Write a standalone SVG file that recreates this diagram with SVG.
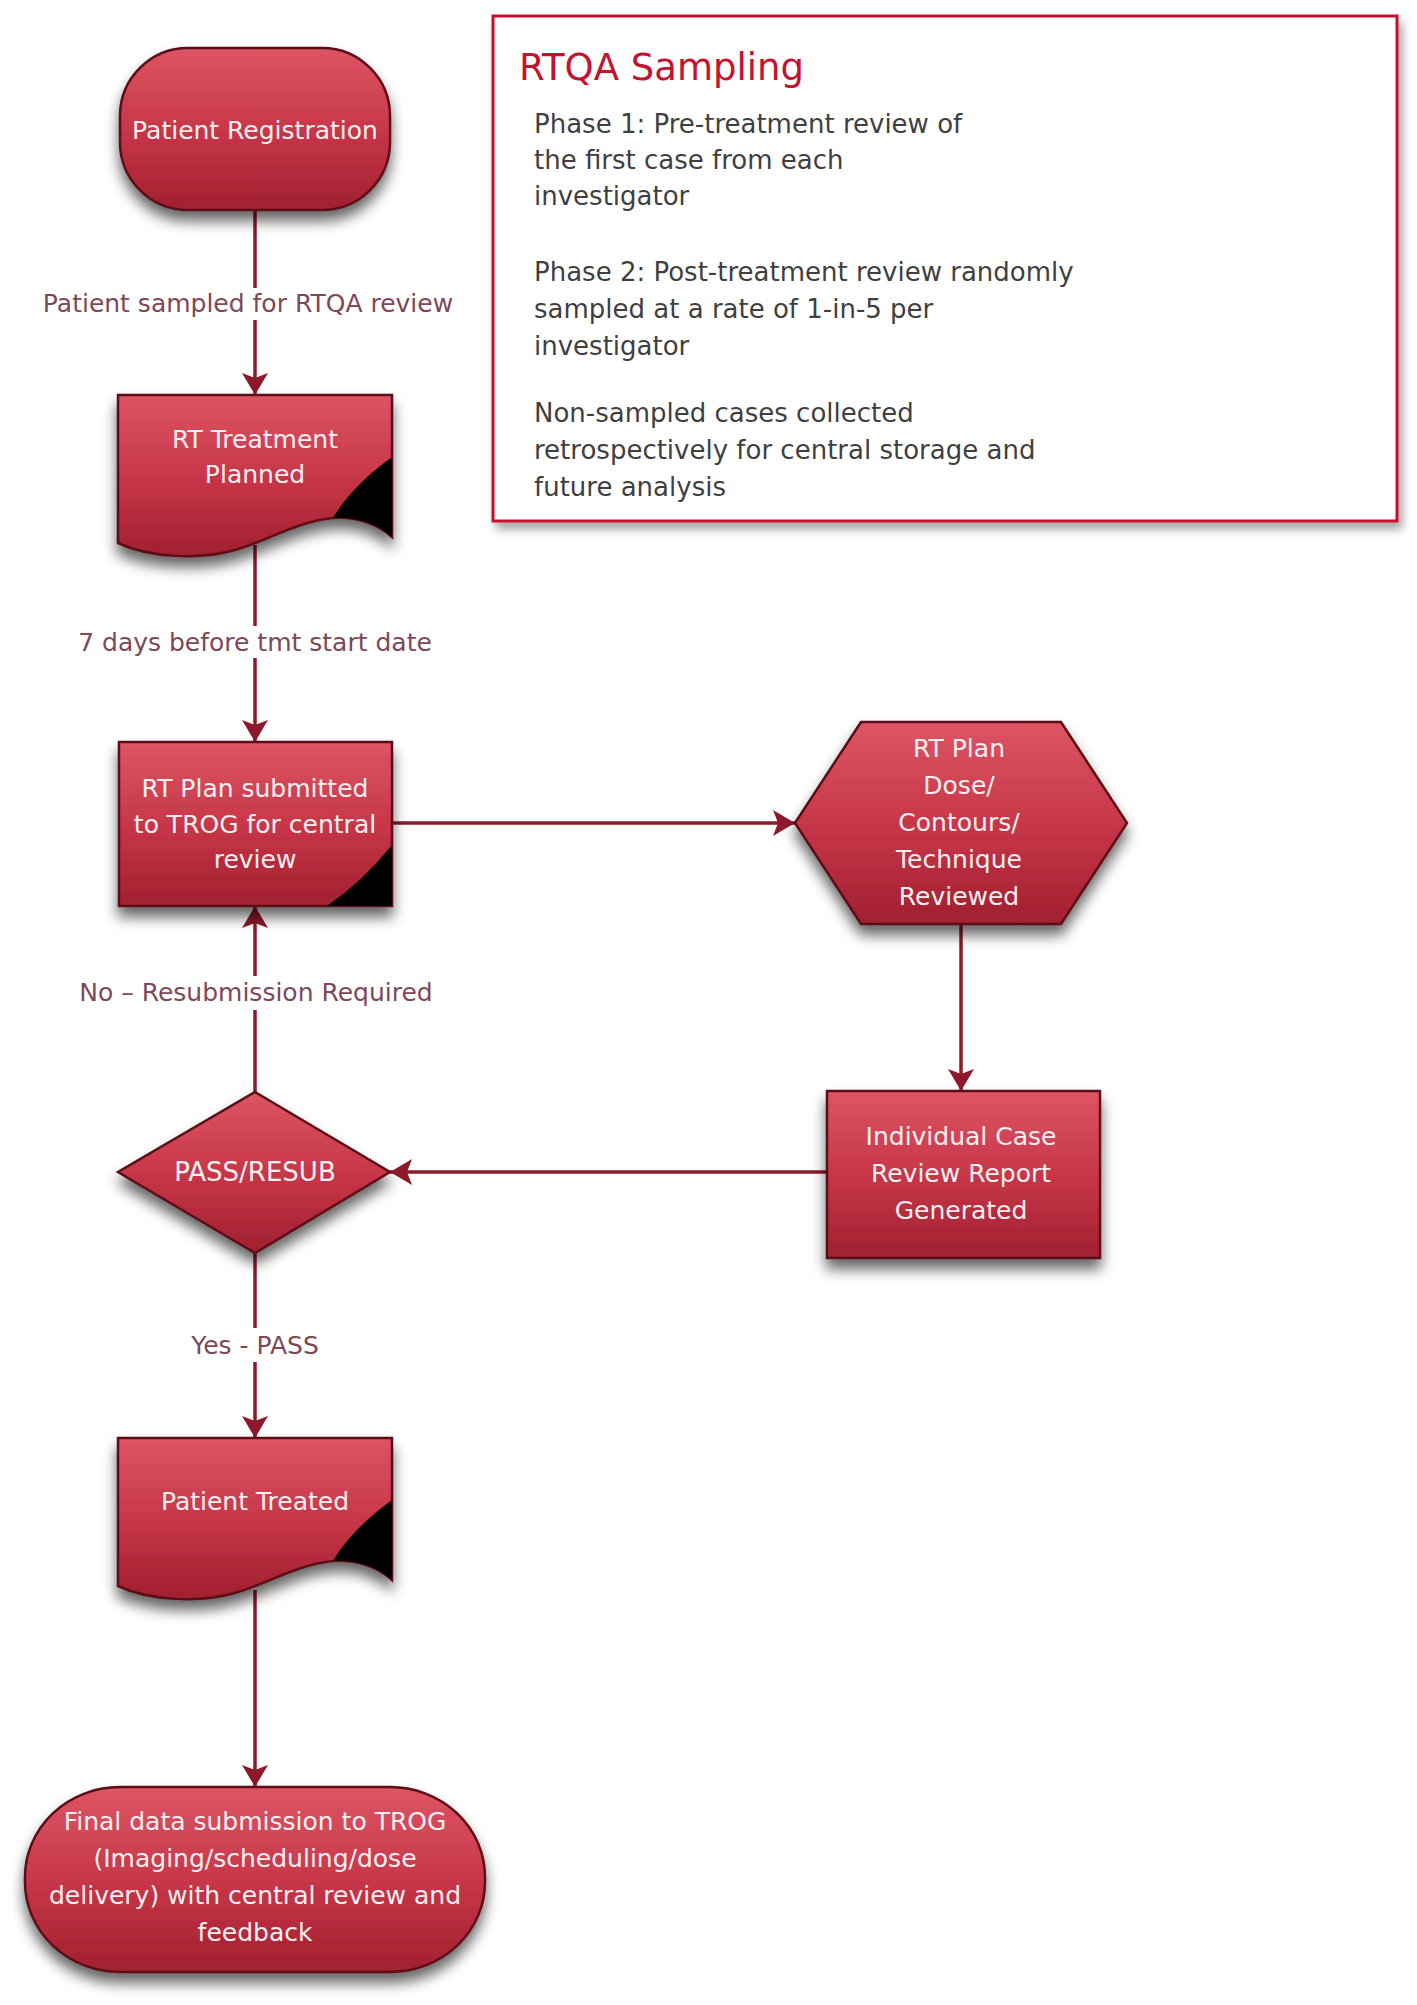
<svg xmlns="http://www.w3.org/2000/svg" width="1417" height="2005" viewBox="0 0 1417 2005">
<defs>
<linearGradient id="gr" x1="0" y1="0" x2="0" y2="1">
<stop offset="0" stop-color="#dd5564"/>
<stop offset="0.55" stop-color="#c53446"/>
<stop offset="1" stop-color="#a0202f"/>
</linearGradient>
<filter id="sh" x="-20%" y="-20%" width="140%" height="150%">
<feDropShadow dx="0" dy="10" stdDeviation="7" flood-color="#000" flood-opacity="0.6"/>
</filter>
<filter id="sh2" x="-5%" y="-5%" width="112%" height="115%">
<feDropShadow dx="4" dy="7" stdDeviation="5" flood-color="#000" flood-opacity="0.35"/>
</filter>
<marker id="ah" viewBox="0 0 22 26" refX="22" refY="13" markerWidth="22" markerHeight="26" markerUnits="userSpaceOnUse" orient="auto">
<path d="M0,0 L22,13 L0,26 L5,13 Z" fill="#8c1a2a"/>
</marker>
<path id="doc" d="M0,0 H274 V142 C260,129 237,121 215,123 C177,127 152,145 117,155 C82,165 32,163 0,148 Z"/>
<path id="curl" d="M274,62 C254,76 228,100 215,123 C237,121 260,129 274,142 Z"/>
</defs>
<style>
.n{fill:url(#gr);stroke:#5c0e18;stroke-width:2.5;filter:url(#sh)}
.t{font-family:"DejaVu Sans",sans-serif;font-size:25px;fill:#fdf0f2;text-anchor:middle}
.c{stroke:#8c1a2a;stroke-width:3.5;fill:none;marker-end:url(#ah)}
.l{font-family:"DejaVu Sans",sans-serif;font-size:25px;fill:#7d4857;text-anchor:middle}
.lb{fill:#fff}
.b{font-family:"DejaVu Sans",sans-serif;font-size:26px;fill:#3f3f3f}
</style>
<rect width="1417" height="2005" fill="#fff"/>

<g id="connectors">
<line class="c" x1="255" y1="210" x2="255" y2="395"/>
<line class="c" x1="255" y1="545" x2="255" y2="742"/>
<line class="c" x1="392" y1="823" x2="795" y2="823"/>
<line class="c" x1="961" y1="924" x2="961" y2="1091"/>
<line class="c" x1="827" y1="1172" x2="390" y2="1172"/>
<line class="c" x1="255" y1="1092" x2="255" y2="906"/>
<line class="c" x1="255" y1="1253" x2="255" y2="1438"/>
<line class="c" x1="255" y1="1590" x2="255" y2="1787"/>
<rect class="lb" x="36" y="288" width="424" height="32"/>
<text class="l" x="248" y="312">Patient sampled for RTQA review</text>
<rect class="lb" x="74" y="626" width="362" height="32"/>
<text class="l" x="255" y="651">7 days before tmt start date</text>
<rect class="lb" x="66" y="976" width="380" height="34"/>
<text class="l" x="256" y="1001">No – Resubmission Required</text>
<rect class="lb" x="184" y="1328" width="142" height="34"/>
<text class="l" x="255" y="1354">Yes - PASS</text>
</g>

<g id="rtqa-sampling">
<rect x="493" y="16" width="904" height="505" fill="#fff" stroke="#c8102e" stroke-width="3" filter="url(#sh2)"/>
<text x="519" y="80" font-family="DejaVu Sans, sans-serif" font-size="37" fill="#c41230">RTQA Sampling</text>
<text class="b" x="534" y="133">Phase 1: Pre-treatment review of</text>
<text class="b" x="534" y="169">the first case from each</text>
<text class="b" x="534" y="205">investigator</text>
<text class="b" x="534" y="281">Phase 2: Post-treatment review randomly</text>
<text class="b" x="534" y="318">sampled at a rate of 1-in-5 per</text>
<text class="b" x="534" y="355">investigator</text>
<text class="b" x="534" y="422">Non-sampled cases collected</text>
<text class="b" x="534" y="459">retrospectively for central storage and</text>
<text class="b" x="534" y="496">future analysis</text>
</g>

<g id="patient-registration">
<rect class="n" x="120" y="48" width="270" height="162" rx="68" ry="68"/>
<text class="t" x="255" y="139">Patient Registration</text>
</g>

<g id="rt-treatment-planned" transform="translate(118,395)">
<use href="#doc" class="n"/>
<use href="#curl" fill="#000"/>
<text class="t" x="137" y="53">RT Treatment</text>
<text class="t" x="137" y="88">Planned</text>
</g>

<g id="rt-plan-submitted">
<rect class="n" x="119" y="742" width="273" height="164"/>
<path d="M392,845 Q362,882 327,906 L392,906 Z" fill="#000"/>
<text class="t" x="255" y="797">RT Plan submitted</text>
<text class="t" x="255" y="833">to TROG for central</text>
<text class="t" x="255" y="868">review</text>
</g>

<g id="rt-plan-reviewed">
<polygon class="n" points="795,823 861,722 1061,722 1127,823 1061,924 861,924"/>
<text class="t" x="959" y="757">RT Plan</text>
<text class="t" x="959" y="794">Dose/</text>
<text class="t" x="959" y="831">Contours/</text>
<text class="t" x="959" y="868">Technique</text>
<text class="t" x="959" y="905">Reviewed</text>
</g>

<g id="case-review-report">
<rect class="n" x="827" y="1091" width="273" height="167"/>
<text class="t" x="961" y="1145">Individual Case</text>
<text class="t" x="961" y="1182">Review Report</text>
<text class="t" x="961" y="1219">Generated</text>
</g>

<g id="pass-resub">
<polygon class="n" points="255,1092 390,1172 255,1253 118,1172"/>
<text class="t" x="255" y="1181" style="font-size:26px">PASS/RESUB</text>
</g>

<g id="patient-treated" transform="translate(118,1438)">
<use href="#doc" class="n"/>
<use href="#curl" fill="#000"/>
<text class="t" x="137" y="72">Patient Treated</text>
</g>

<g id="final-submission">
<rect class="n" x="25" y="1787" width="460" height="185" rx="95" ry="90"/>
<text class="t" x="255" y="1830">Final data submission to TROG</text>
<text class="t" x="255" y="1867">(Imaging/scheduling/dose</text>
<text class="t" x="255" y="1904">delivery) with central review and</text>
<text class="t" x="255" y="1941">feedback</text>
</g>
</svg>
